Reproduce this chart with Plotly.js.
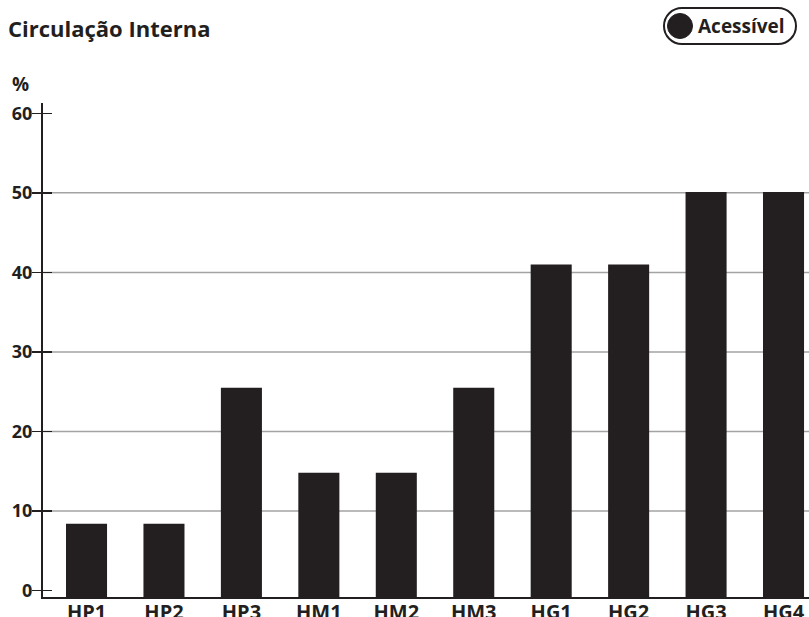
<!DOCTYPE html>
<html>
<head>
<meta charset="utf-8">
<script src="https://cdn.plot.ly/plotly-3.0.1.min.js"></script>
<style>html,body{margin:0;padding:0;background:#fff;}#chart{width:809px;height:617px;}</style>
</head>
<body>
<div id="chart"></div>
<script>
const categories = ["HP1","HP2","HP3","HM1","HM2","HM3","HG1","HG2","HG3","HG4"];
const values = [8.4, 8.4, 25.5, 14.8, 14.8, 25.5, 41.0, 41.0, 50.1, 50.1];
const seriesName = "Acessível";
const tickVals = [0, 10, 20, 30, 40, 50, 60];
const gridVals = [10, 20, 30, 40, 50];
const titleText = "Circulação Interna";
const unitText = "%";

const W = 809, H = 617;
const M = {l: 43, r: 0, t: 103, b: 20};
const yMin = -0.82, yMax = 61.3;
const ink = "#231f20";
const FONT = "'Open Sans', 'Noto Sans', sans-serif";

const pw = W - M.l - M.r, ph = H - M.t - M.b;
const px = x => (x - M.l) / pw;
const py = y => (H - M.b - y) / ph;

const bars = {
  type: "bar",
  x: categories,
  y: values.map(v => v - yMin),
  base: values.map(() => yMin),
  name: seriesName,
  marker: {color: ink},
  showlegend: false,
  hoverinfo: "skip"
};
const dummy = {type: "scatter", x: [categories[0]], y: [null], yaxis: "y2", showlegend: false, hoverinfo: "skip", mode: "markers"};

const shapes = gridVals.map(g => ({
  type: "line", layer: "below", xref: "paper", yref: "y",
  x0: 0, x1: 1, y0: g, y1: g,
  line: {color: "#a3a3a3", width: 1.5}
}));
// legend pill
const L = 664, R = 796, T = 8, B = 44, r = 18, mid = (T + B) / 2;
const P = (x, y) => px(x).toFixed(5) + "," + py(y).toFixed(5);
shapes.push({
  type: "path", xref: "paper", yref: "paper",
  path: "M" + P(L + r, T) + " L" + P(R - r, T) +
        " C" + P(R - r + 10, T) + " " + P(R, mid - 10) + " " + P(R, mid) +
        " C" + P(R, mid + 10) + " " + P(R - r + 10, B) + " " + P(R - r, B) +
        " L" + P(L + r, B) +
        " C" + P(L + r - 10, B) + " " + P(L, mid + 10) + " " + P(L, mid) +
        " C" + P(L, mid - 10) + " " + P(L + r - 10, T) + " " + P(L + r, T) + " Z",
  line: {color: ink, width: 2}, fillcolor: "rgba(0,0,0,0)"
});
shapes.push({
  type: "circle", xref: "paper", yref: "paper",
  x0: px(667.5), x1: px(692.5), y0: py(38.5), y1: py(13.5),
  fillcolor: ink, line: {color: ink, width: 1}
});

const layout = {
  width: W, height: H,
  margin: M,
  paper_bgcolor: "#fff", plot_bgcolor: "#fff",
  font: {family: FONT, color: ink},
  bargap: 0.47,
  showlegend: false,
  xaxis: {
    type: "category",
    range: [-0.562, 9.329],
    showline: true, linecolor: ink, linewidth: 2,
    ticks: "", showgrid: false, zeroline: false,
    tickfont: {family: FONT, size: 20, weight: 700, color: ink},
    ticklabelstandoff: -4,
    fixedrange: true
  },
  yaxis: {
    range: [yMin, yMax],
    tickvals: tickVals,
    showline: true, linecolor: ink, linewidth: 2,
    ticks: "outside", ticklen: 9, tickwidth: 1.5, tickcolor: ink,
    showgrid: false, zeroline: false,
    tickfont: {family: FONT, size: 18, weight: 700, color: ink},
    ticklabelstandoff: -4,
    fixedrange: true
  },
  yaxis2: {
    overlaying: "y", side: "left",
    range: [yMin, yMax],
    tickvals: tickVals,
    ticks: "inside", ticklen: 9, tickwidth: 1.5, tickcolor: ink,
    showticklabels: false, showline: false, showgrid: false, zeroline: false,
    fixedrange: true
  },
  shapes: shapes,
  annotations: [
    {text: titleText, xref: "paper", yref: "paper", x: px(6), y: py(28), xanchor: "left", yanchor: "middle",
     showarrow: false, font: {family: FONT, size: 22, weight: 700, color: ink}},
    {text: unitText, xref: "paper", yref: "paper", x: px(10), y: py(84), xanchor: "left", yanchor: "middle",
     showarrow: false, font: {family: FONT, size: 19, weight: 700, color: ink}},
    {text: seriesName, xref: "paper", yref: "paper", x: px(696), y: py(26), xanchor: "left", yanchor: "middle",
     showarrow: false, font: {family: FONT, size: 19, weight: 700, color: ink}}
  ]
};

Plotly.newPlot("chart", [bars, dummy], layout, {displayModeBar: false, staticPlot: true});
</script>
</body>
</html>
